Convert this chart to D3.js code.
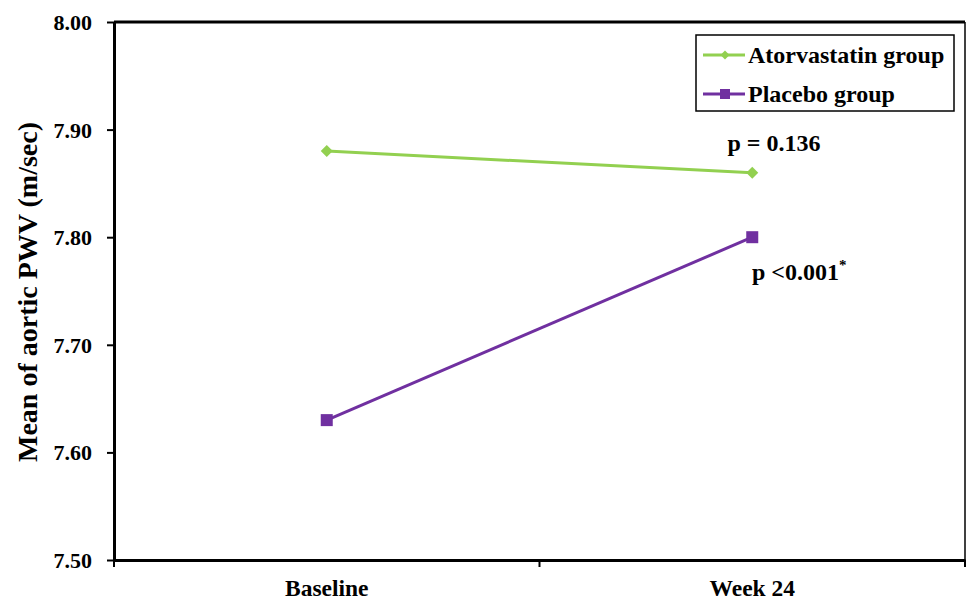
<!DOCTYPE html>
<html><head><meta charset="utf-8">
<script src="https://cdn.jsdelivr.net/npm/d3@7"></script>
<style>body{margin:0;background:#fff}svg text{font-family:"Liberation Serif","Times New Roman",serif;font-weight:bold;fill:#000}</style>
</head><body><svg id="c" width="968" height="600"></svg>
<script>
const categories = ["Baseline", "Week 24"];
const atorvastatin = [7.88, 7.86];
const placebo = [7.63, 7.80];
const yTicks = [7.50, 7.60, 7.70, 7.80, 7.90, 8.00];
const seriesNames = ["Atorvastatin group", "Placebo group"];
const pLabels = ["p = 0.136", "p <0.001"];

const svg = d3.select("#c");
const m = {l:114, r:965, t:22, b:560};
const x = d3.scaleBand().domain(categories).range([m.l, m.r]);
const y = d3.scaleLinear().domain([7.5, 8.0]).range([m.b, m.t]);

// frame (top and right)
svg.append("line").attr("x1", m.l).attr("x2", m.r).attr("y1", m.t).attr("y2", m.t).attr("stroke","#000").attr("stroke-width",3);
svg.append("line").attr("x1", m.r).attr("x2", m.r).attr("y1", m.t).attr("y2", m.b).attr("stroke","#000").attr("stroke-width",1.5);

// y axis
const ya = svg.append("g").attr("transform",`translate(${m.l},0)`)
  .call(d3.axisLeft(y).tickValues(yTicks).tickFormat(d3.format(".2f")).tickSize(7).tickSizeOuter(0));
ya.select(".domain").attr("stroke-width",3);
ya.selectAll(".tick line").attr("stroke-width",2);
ya.selectAll(".tick text").style("font-size","22px").attr("x",-22).attr("dy","0.34em");

// x axis
const xa = svg.append("g").attr("transform",`translate(0,${m.b})`)
  .call(d3.axisBottom(x).tickSize(0).tickSizeOuter(0));
xa.select(".domain").attr("stroke-width",3);
xa.selectAll(".tick text").style("font-size","23.5px").attr("y",36).attr("dy","0");
// boundary ticks
const bounds = [m.l, m.l + x.step(), m.r];
svg.append("g").selectAll("line").data(bounds).join("line")
  .attr("x1",d=>d).attr("x2",d=>d).attr("y1",m.b).attr("y2",m.b+7)
  .attr("stroke","#000").attr("stroke-width",2);

// axis title
svg.append("text").attr("transform","translate(37,292) rotate(-90)")
  .attr("text-anchor","middle").style("font-size","28px").text("Mean of aortic PWV (m/sec)");

const cx = c => x(c) + x.bandwidth()/2;
const line = d3.line().x((d,i)=>cx(categories[i])).y(d=>y(d));
const green = "#92D050", purple = "#7030A0";

svg.append("path").datum(atorvastatin).attr("d",line).attr("fill","none").attr("stroke",green).attr("stroke-width",3);
svg.append("path").datum(placebo).attr("d",line).attr("fill","none").attr("stroke",purple).attr("stroke-width",3);

const diamond = d3.symbol().type(d3.symbolSquare).size(72);
svg.append("g").selectAll("path").data(atorvastatin).join("path")
  .attr("d",diamond).attr("fill",green)
  .attr("transform",(d,i)=>`translate(${cx(categories[i])},${y(d)}) rotate(45)`);
svg.append("g").selectAll("rect").data(placebo).join("rect")
  .attr("x",(d,i)=>cx(categories[i])-6).attr("y",d=>y(d)-6).attr("width",12).attr("height",12).attr("fill",purple);

// p labels
svg.append("text").attr("x",774).attr("y",151).attr("text-anchor","middle").style("font-size","24px").text(pLabels[0]);
const pt = svg.append("text").attr("x",752).attr("y",280).style("font-size","24px").text(pLabels[1]);
pt.append("tspan").attr("dy",-10).style("font-size","15px").text("*");

// legend
const lg = svg.append("g");
lg.append("rect").attr("x",696).attr("y",35).attr("width",258).attr("height",76).attr("fill","#fff").attr("stroke","#000").attr("stroke-width",1.5);
const legendRows = [{name:seriesNames[0], color:green, shape:"d", y:55},{name:seriesNames[1], color:purple, shape:"s", y:94}];
legendRows.forEach(r=>{
  lg.append("line").attr("x1",703).attr("x2",745).attr("y1",r.y).attr("y2",r.y).attr("stroke",r.color).attr("stroke-width",3);
  if(r.shape==="d"){
    lg.append("path").attr("d",d3.symbol().type(d3.symbolSquare).size(40)).attr("fill",r.color).attr("transform",`translate(725,${r.y}) rotate(45)`);
  } else {
    lg.append("rect").attr("x",720).attr("y",r.y-5).attr("width",10).attr("height",10).attr("fill",r.color);
  }
  lg.append("text").attr("x",748).attr("y",r.y+8).style("font-size","24px").text(r.name);
});
</script></body></html>
